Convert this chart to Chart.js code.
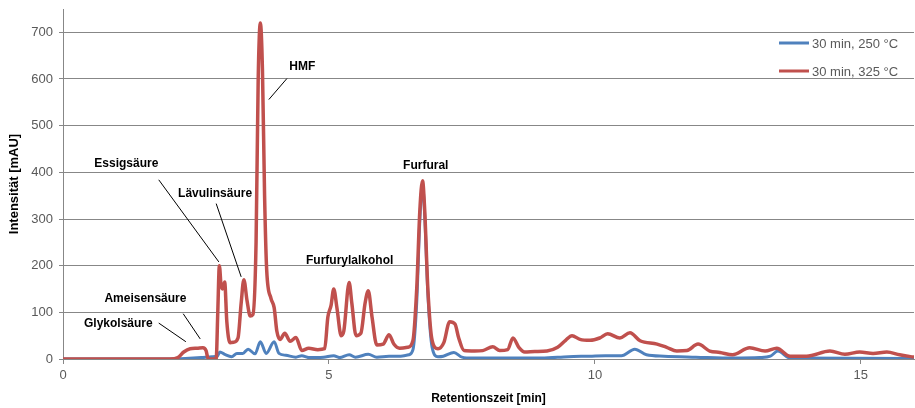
<!DOCTYPE html>
<html>
<head>
<meta charset="utf-8">
<script src="https://cdn.jsdelivr.net/npm/chart.js@4.4.1/dist/chart.umd.min.js"></script>
<style>
  html, body { margin: 0; padding: 0; background: #fff; }
  #wrap { width: 915px; height: 408px; }
</style>
</head>
<body>
<div id="wrap"><canvas id="chromChart"></canvas></div>
<script>
// Chromatogramm-Daten
const seriesNames = ['30 min, 250 °C', '30 min, 325 °C'];

// 30 min, 325 °C
const redTime = [0, 2.01, 2.16, 2.27, 2.39, 2.52, 2.63, 2.69, 2.73, 2.88, 2.91, 2.94, 2.97, 3.0, 3.04, 3.08, 3.14, 3.21, 3.29, 3.35, 3.40, 3.46, 3.52, 3.57, 3.63, 3.67, 3.71, 3.75, 3.79, 3.83, 3.91, 3.97, 4.02, 4.08, 4.17, 4.27, 4.38, 4.49, 4.62, 4.79, 4.92, 4.98, 5.04, 5.09, 5.15, 5.23, 5.28, 5.38, 5.43, 5.51, 5.60, 5.68, 5.74, 5.81, 5.90, 6.02, 6.13, 6.22, 6.33, 6.48, 6.58, 6.65, 6.71, 6.76, 6.80, 6.86, 6.94, 7.05, 7.16, 7.27, 7.37, 7.44, 7.54, 7.74, 7.89, 8.08, 8.21, 8.36, 8.46, 8.57, 8.68, 8.87, 9.10, 9.30, 9.45, 9.57, 9.72, 9.91, 10.09, 10.24, 10.47, 10.66, 10.85, 11.17, 11.35, 11.54, 11.73, 11.94, 12.16, 12.35, 12.59, 12.91, 13.20, 13.42, 13.67, 13.98, 14.42, 14.70, 14.98, 15.23, 15.49, 15.73, 16.0];
const redIntensity = [0, 0, 3, 15, 22, 23, 24, 18, 0, 0, 100, 200, 160, 150, 165, 80, 35, 36, 45, 120, 170, 125, 92, 95, 250, 600, 720, 620, 350, 190, 130, 110, 60, 42, 55, 38, 46, 18, 23, 20, 22, 90, 115, 150, 110, 50, 60, 164, 120, 50, 55, 120, 146, 90, 30, 32, 52, 32, 23, 25, 40, 150, 320, 382, 320, 150, 40, 22, 35, 80, 75, 45, 18, 17, 18, 26, 18, 20, 45, 25, 15, 16, 17, 25, 40, 50, 42, 40, 45, 54, 45, 56, 39, 32, 25, 17, 18, 32, 17, 14, 9, 24, 17, 23, 6, 6, 17, 10, 15, 12, 15, 9, 4];

// 30 min, 250 °C
const blueTime = [0, 2.0, 2.3, 2.6, 2.8, 2.9, 2.95, 3.04, 3.17, 3.27, 3.38, 3.48, 3.61, 3.71, 3.82, 3.97, 4.06, 4.19, 4.38, 4.49, 4.62, 4.9, 5.09, 5.2, 5.38, 5.5, 5.74, 5.9, 6.13, 6.35, 6.5, 6.58, 6.65, 6.71, 6.76, 6.80, 6.86, 6.94, 7.05, 7.15, 7.35, 7.5, 7.7, 9.0, 9.5, 9.9, 10.2, 10.5, 10.75, 10.97, 11.3, 11.9, 12.6, 13.1, 13.3, 13.44, 13.67, 16.0];
const blueIntensity = [0, 0, 1, 3, 5, 6, 15, 10, 5, 12, 12, 21, 11, 37, 12, 37, 12, 8, 4, 7, 3, 4, 7, 3, 9, 4, 10, 4, 6, 6, 9, 20, 120, 300, 372, 310, 140, 25, 5, 6, 14, 4, 2, 2, 5, 6, 7, 7, 21, 9, 6, 4, 2, 3, 6, 17, 2, 1];

const yTicks = [0, 100, 200, 300, 400, 500, 600, 700];
const xTicks = [0, 5, 10, 15];

// Peak-Beschriftungen: Text, Position [min, mAU]
const peakNames = ['Essigsäure', 'Lävulinsäure', 'Ameisensäure', 'Glykolsäure', 'HMF', 'Furfurylalkohol', 'Furfural'];
const peakLabelX = [1.19, 2.86, 1.55, 1.04, 4.50, 5.39, 6.82];
const peakLabelY = [419, 354, 130, 75, 627, 210, 415];
// Hinweislinien [x1, y1, x2, y2] (null = keine Linie)
const peakLines = [
    [1.80, 384, 2.93, 208],
    [2.88, 333, 3.35, 176],
    [2.26, 97, 2.58, 43],
    [1.80, 77, 2.31, 37],
    [4.21, 601, 3.87, 556],
    null,
    null
];

const colorBlue = '#4F81BD';
const colorRed = '#C0504D';
const gridColor = '#878787';
const tickColor = '#595959';
const fontName = "'Liberation Sans', Arial, sans-serif";

function toPoints(xs, ys) {
    return xs.map((x, i) => ({ x: x, y: ys[i] }));
}

// Beschriftungen und Legende zeichnen
const annotationPlugin = {
    id: 'peakAnnotations',
    afterDatasetsDraw(chart) {
        const ctx = chart.ctx;
        const xs = chart.scales.x;
        const ys = chart.scales.y;
        ctx.save();
        ctx.strokeStyle = '#000';
        ctx.lineWidth = 1;
        peakLines.forEach(l => {
            if (!l) return;
            ctx.beginPath();
            ctx.moveTo(xs.getPixelForValue(l[0]), ys.getPixelForValue(l[1]));
            ctx.lineTo(xs.getPixelForValue(l[2]), ys.getPixelForValue(l[3]));
            ctx.stroke();
        });
        ctx.fillStyle = '#000';
        ctx.font = 'bold 12px ' + fontName;
        ctx.textAlign = 'center';
        ctx.textBaseline = 'middle';
        peakNames.forEach((name, i) => {
            ctx.fillText(name, xs.getPixelForValue(peakLabelX[i]), ys.getPixelForValue(peakLabelY[i]));
        });

        // Legende oben rechts
        const area = chart.chartArea;
        const colors = [colorBlue, colorRed];
        ctx.font = '13px ' + fontName;
        ctx.textAlign = 'left';
        ctx.fillStyle = tickColor;
        seriesNames.forEach((name, i) => {
            const y = area.top + 34 + i * 28;
            const x0 = area.right - 135;
            ctx.strokeStyle = colors[i];
            ctx.lineWidth = 3;
            ctx.beginPath();
            ctx.moveTo(x0, y);
            ctx.lineTo(x0 + 30, y);
            ctx.stroke();
            ctx.fillText(name, x0 + 33, y + 1);
        });
        ctx.restore();
    }
};

const ctx = document.getElementById('chromChart').getContext('2d');
const chromChart = new Chart(ctx, {
    type: 'line',
    data: {
        datasets: [
            {
                label: seriesNames[1],
                data: toPoints(redTime, redIntensity),
                borderColor: colorRed,
                borderWidth: 3.5,
                pointRadius: 0,
                cubicInterpolationMode: 'monotone',
                order: 0
            },
            {
                label: seriesNames[0],
                data: toPoints(blueTime, blueIntensity),
                borderColor: colorBlue,
                borderWidth: 3,
                pointRadius: 0,
                cubicInterpolationMode: 'monotone',
                order: 1
            }
        ]
    },
    options: {
        responsive: true,
        maintainAspectRatio: false,
        animation: false,
        layout: { padding: { top: 9, right: 1, left: 0, bottom: 0 } },
        plugins: {
            legend: { display: false },
            tooltip: { enabled: false }
        },
        scales: {
            x: {
                type: 'linear',
                min: 0,
                max: 16,
                afterBuildTicks: scale => { scale.ticks = xTicks.map(v => ({ value: v })); },
                afterFit: scale => { scale.height = 49; scale.paddingLeft = 0; scale.paddingRight = 0; },
                ticks: {
                    color: tickColor,
                    font: { family: fontName, size: 13 },
                    padding: 4,
                    maxRotation: 0
                },
                grid: {
                    drawOnChartArea: false,
                    drawTicks: true,
                    tickLength: 5,
                    color: gridColor
                },
                border: { color: gridColor, width: 1 },
                title: {
                    display: true,
                    text: 'Retentionszeit [min]',
                    color: '#000',
                    font: { family: fontName, size: 12, weight: 'bold' },
                    padding: { top: 4, bottom: 2 }
                }
            },
            y: {
                min: 0,
                max: 750,
                afterBuildTicks: scale => { scale.ticks = yTicks.map(v => ({ value: v })); },
                afterFit: scale => { scale.width = 63; scale.paddingTop = 0; scale.paddingBottom = 0; },
                ticks: {
                    color: tickColor,
                    font: { family: fontName, size: 13 },
                    padding: 6
                },
                grid: {
                    color: gridColor,
                    drawTicks: true,
                    tickLength: 4
                },
                border: { color: gridColor, width: 1 },
                title: {
                    display: true,
                    text: 'Intensität [mAU]',
                    color: '#000',
                    font: { family: fontName, size: 13, weight: 'bold' },
                    padding: { top: 7, bottom: 0 }
                }
            }
        }
    },
    plugins: [annotationPlugin]
});
</script>
</body>
</html>
